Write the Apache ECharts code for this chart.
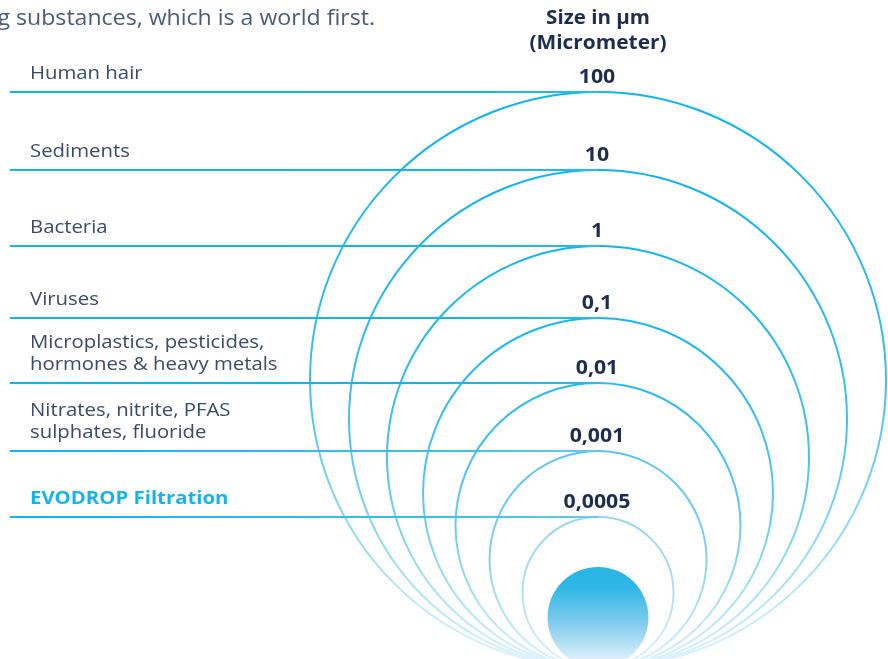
<!DOCTYPE html>
<html><head><meta charset="utf-8">
<script src="https://cdn.jsdelivr.net/npm/echarts@6/dist/echarts.min.js"></script>
<style>html,body{margin:0;padding:0;background:#fff}#c{width:888px;height:659px}</style>
</head><body><div id="c"></div>
<script>
// ---- data ----
const categories = [
  'Human hair',
  'Sediments',
  'Bacteria',
  'Viruses',
  'Microplastics, pesticides,\nhormones & heavy metals',
  'Nitrates, nitrite, PFAS\nsulphates, fluoride',
  'EVODROP Filtration'
];
const sizeLabels = ['100', '10', '1', '0,1', '0,01', '0,001', '0,0005'];
// circle diameters (chart units)
const circleDiameter = [576, 498, 422, 350, 285, 217, 151];
const dropDiameter = [101];
const axisTitle = ['Size in µm', '(Micrometer)'];
const introText = 'g substances, which is a world first.';

// ---- layout / style ----
const CX = 598, LINE_X0 = 10, LABEL_X = 30;
const strokeTop = ['#0db4ea', '#0db4ea', '#0fb5ea', '#16b6ea', '#27b9eb', '#58c3ee', '#92d4f3'];
const strokeMid = ['#3cc0ee', '#40c1ee', '#48c3ef', '#55c6ef', '#68cbf0', '#86d2f2', '#b0def5'];
const FONT = '"Open Sans", "Noto Sans", sans-serif';
const NAVY = '#1c2d4f';

const chart = echarts.init(document.getElementById('c'), null, { renderer: 'canvas' });

const option = {
  animation: false,
  grid: { left: 0, right: 0, top: 0, bottom: 0 },
  xAxis: { type: 'value', min: 0, max: 888, show: false },
  yAxis: { type: 'value', min: 9, max: 668, show: false },
  graphic: [
    { type: 'text', x: 375, y: 19, scaleX: 1.1, style: { text: introText, fill: '#4b5b7a', fontSize: 21, fontFamily: FONT, align: 'right', verticalAlign: 'middle' } },
    { type: 'text', x: CX, y: 19, scaleX: 1.08, style: { text: axisTitle[0], fill: NAVY, fontSize: 19, fontWeight: 'bold', fontFamily: FONT, align: 'center', verticalAlign: 'middle' } },
    { type: 'text', x: CX, y: 44, scaleX: 1.1, style: { text: axisTitle[1], fill: NAVY, fontSize: 19, fontWeight: 'bold', fontFamily: FONT, align: 'center', verticalAlign: 'middle' } }
  ],
  series: [
    {
      type: 'custom',
      z: 1,
      data: circleDiameter.map((d, i) => [i, d]),
      renderItem: function (params, api) {
        const i = api.value(0);
        const d = api.value(1);
        const c = api.coord([CX, d / 2]);
        const r = api.size([0, d])[1] / 2;
        return {
          type: 'circle',
          shape: { cx: c[0], cy: c[1], r: r },
          style: {
            fill: 'none',
            lineWidth: 2,
            stroke: {
              type: 'linear', x: 0, y: 0, x2: 0, y2: 1,
              colorStops: [
                { offset: 0, color: strokeTop[i] },
                { offset: 0.5, color: strokeMid[i] },
                { offset: 1, color: '#e4f4fc' }
              ]
            }
          }
        };
      }
    },
    {
      type: 'custom',
      z: 2,
      data: dropDiameter.map((d, i) => [i, d]),
      renderItem: function (params, api) {
        const d = api.value(1);
        const c = api.coord([CX, d / 2]);
        const r = api.size([0, d])[1] / 2;
        return {
          type: 'circle',
          shape: { cx: c[0], cy: c[1], r: r },
          style: {
            fill: {
              type: 'linear', x: 0, y: 0, x2: 0, y2: 1,
              colorStops: [
                { offset: 0, color: '#2ab5e4' },
                { offset: 0.2, color: '#2eb7e6' },
                { offset: 0.6, color: '#8dcfee' },
                { offset: 1, color: '#f2f9fe' }
              ]
            }
          }
        };
      }
    },
    {
      type: 'custom',
      z: 3,
      data: circleDiameter.map((d, i) => [i, d]),
      renderItem: function (params, api) {
        const i = api.value(0);
        const d = api.value(1);
        const p0 = api.coord([LINE_X0, d]);
        const p1 = api.coord([CX, d]);
        const last = i === categories.length - 1;
        return {
          type: 'group',
          children: [
            {
              type: 'line',
              shape: { x1: p0[0], y1: p0[1], x2: p1[0], y2: p1[1] },
              style: {
                lineWidth: 2,
                stroke: {
                  type: 'linear', x: 0, y: 0, x2: 1, y2: 0,
                  colorStops: [
                    { offset: 0, color: '#12b6ea' },
                    { offset: 0.75, color: i > 4 ? '#3fbdec' : '#14b6ea' },
                    { offset: 1, color: i > 4 ? '#6cc8ef' : '#2bbaeb' }
                  ]
                }
              }
            },
            {
              type: 'text',
              x: LABEL_X,
              y: p0[1] - 7,
              scaleX: 1.13,
              style: {
                text: categories[i],
                fill: last ? '#18b4e8' : '#3a4a6a',
                fontSize: 18,
                fontWeight: last ? 'bold' : 'normal',
                fontFamily: FONT,
                lineHeight: 22,
                align: 'left',
                verticalAlign: 'bottom'
              }
            },
            {
              type: 'text',
              x: p1[0] - 1,
              y: p1[1] - 14,
              scaleX: 1.12,
              style: {
                text: sizeLabels[i],
                fill: NAVY,
                fontSize: 19,
                fontWeight: 'bold',
                fontFamily: FONT,
                align: 'center',
                verticalAlign: 'middle'
              }
            }
          ]
        };
      }
    }
  ]
};
chart.setOption(option);
</script>
</body></html>
